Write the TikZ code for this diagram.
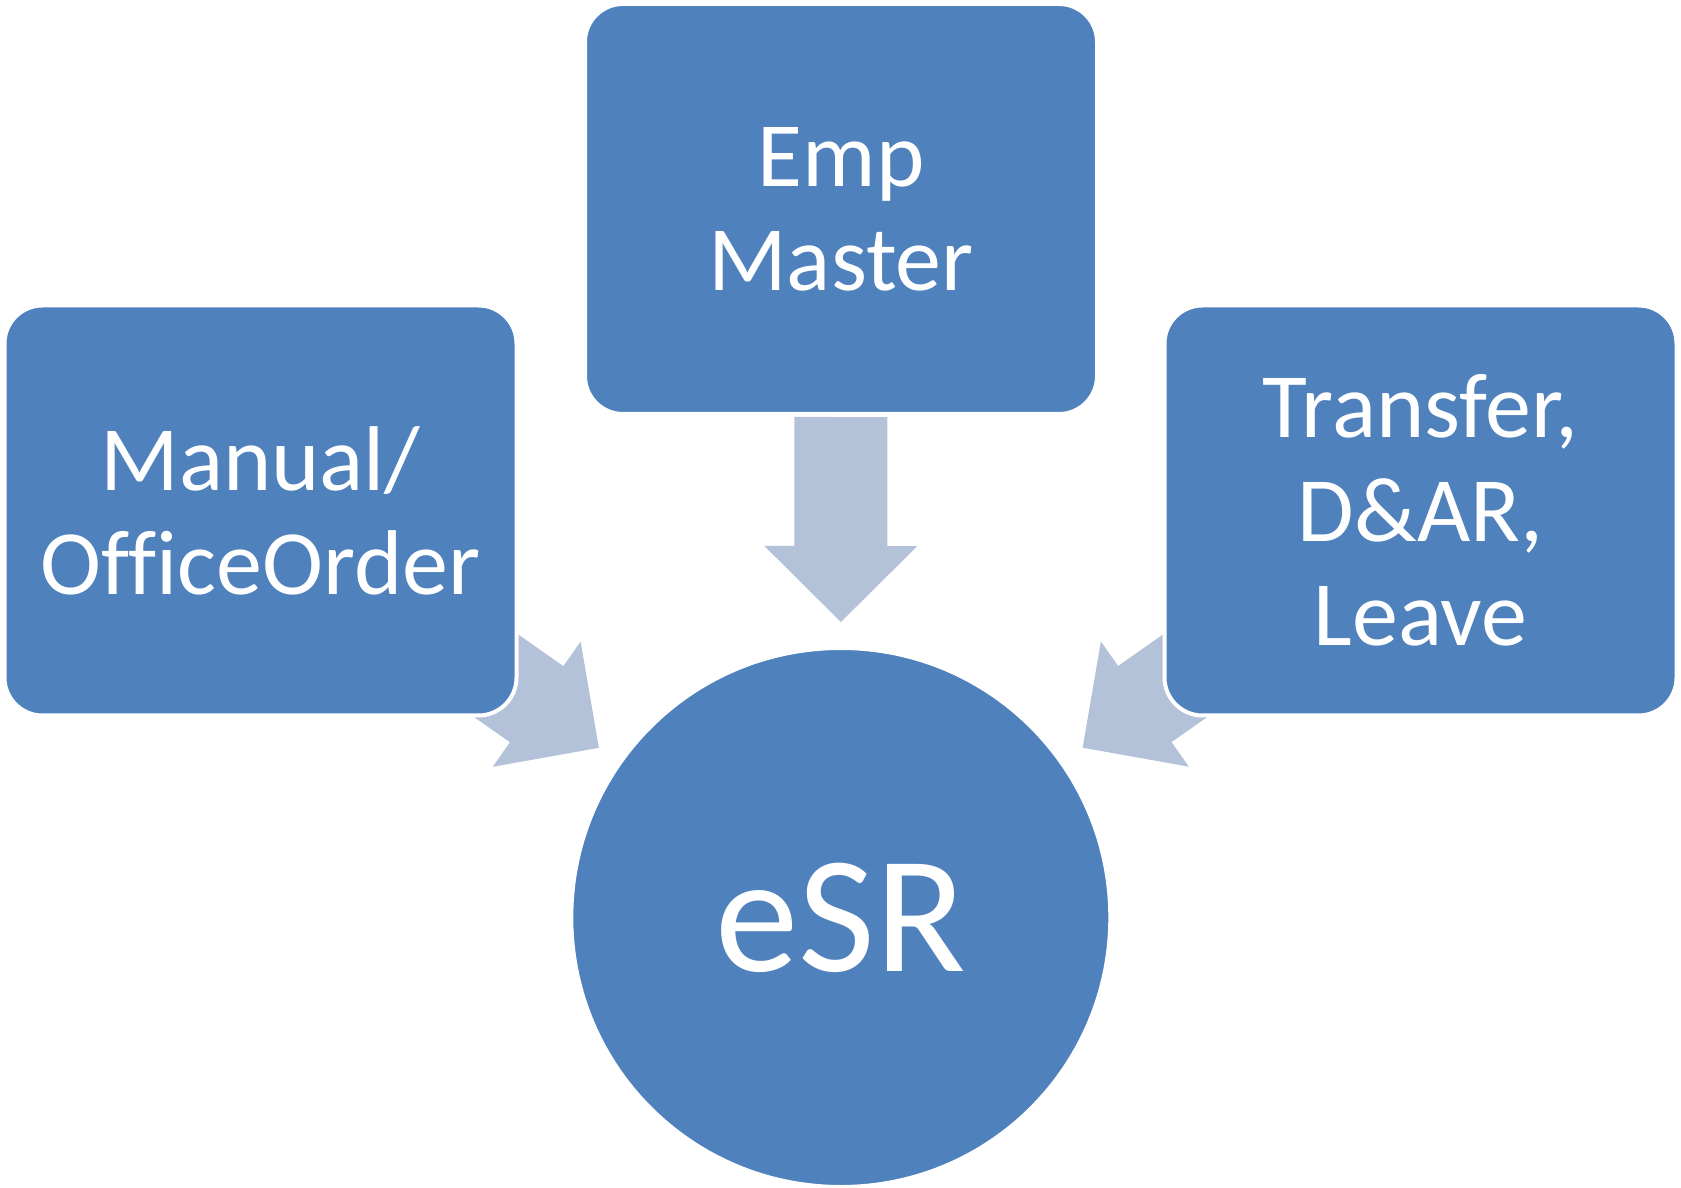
\documentclass[tikz,border=0pt]{standalone}
\usepackage{fontspec}
\setmainfont{Carlito}[Ligatures=NoCommon]
\usetikzlibrary{calc,backgrounds}
\definecolor{boxblue}{HTML}{4F81BD}
\definecolor{arrowblue}{HTML}{B3C1D9}
\tikzset{
  srcbox/.style={rectangle, rounded corners=38pt, fill=boxblue, draw=white, line width=4pt,
    minimum width=512pt, minimum height=410pt, inner sep=0pt, text=white, align=center,
    font=\fontsize{92}{104}\selectfont},
  hub/.style={circle, fill=boxblue, draw=white, line width=4pt, minimum size=539pt,
    inner sep=0pt, text=white, font=\fontsize{167}{180}\selectfont},
  arrowfill/.style={fill=arrowblue}
}
\newcommand{\blockarrow}[2]{%
  \coordinate (ah) at ($(#2.center)!371.5pt!(#1.center)$);
  \coordinate (at) at ($(#2.center)!500.5pt!(#1.center)$);
  \fill[arrowfill] ($(#2.center)!295.5pt!(#1.center)$)
    -- ($(ah)!76.5pt!90:(#1.center)$) -- ($(ah)!46.5pt!90:(#1.center)$)
    -- ($(at)!46.5pt!90:(#1.center)$) -- ($(at)!46.5pt!-90:(#1.center)$)
    -- ($(ah)!46.5pt!-90:(#1.center)$) -- ($(ah)!76.5pt!-90:(#1.center)$) -- cycle;
}
\begin{document}
\begin{tikzpicture}[x=1pt,y=1pt]
\useasboundingbox (0,0) rectangle (1681,1187);
\node[hub] (esr) at (840.8,269.5) {eSR};
\node[srcbox] (emp) at (841,978) {Emp\\Master};
\node[srcbox] (manual) at (260.5,676.5) {Manual/\\OfficeOrder};
\node[srcbox] (transfer) at (1420.5,676.5) {Transfer,\\D\&AR,\\Leave};
\begin{scope}[on background layer]
  \blockarrow{emp}{esr}
  \blockarrow{manual}{esr}
  \blockarrow{transfer}{esr}
\end{scope}
\end{tikzpicture}
\end{document}
